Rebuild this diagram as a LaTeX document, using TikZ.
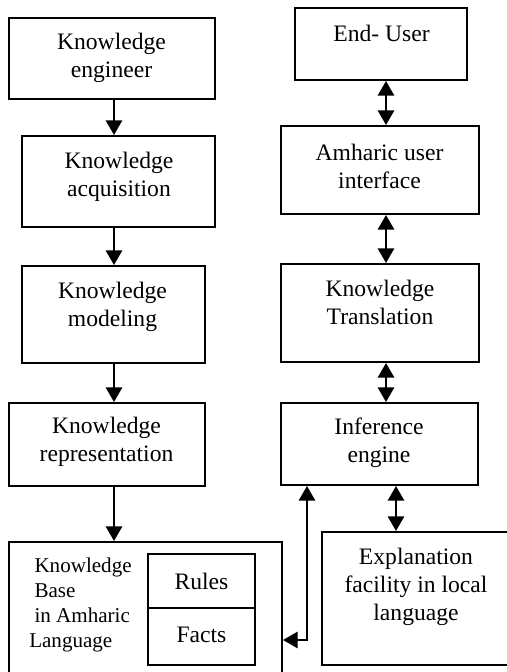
\documentclass[tikz,border=0pt]{standalone}
\usepackage{fontspec}
\setmainfont{Liberation Serif}
\usetikzlibrary{arrows.meta,fit}
\begin{document}
\begin{tikzpicture}[x=0.75pt,y=-0.75pt,
  box/.style={draw, line width=1.4pt, inner sep=0pt},
  txt/.style={align=center, inner sep=0pt, font=\fontsize{17.7}{21}\selectfont},
  kbtxt/.style={align=left, inner sep=0pt, font=\fontsize{15.8}{18.75}\selectfont},
  arr/.style={line width=2.1pt, -{Triangle[width=12pt,length=11pt]}},
  darr/.style={line width=2.1pt, {Triangle[width=12pt,length=11pt]}-{Triangle[width=12pt,length=11pt]}}]
\useasboundingbox (0,0) rectangle (507,672);
\clip (0,0) rectangle (507,672);
% left column
\node[box, fit={(9,18) (215,99)}] (ke) {};
\node[txt] (ket) at (111.5,58) {Knowledge\\engineer};
\node[box, fit={(22,136) (215,227)}] (ka) {};
\node[txt] (kat) at (119,176.5) {Knowledge\\acquisition};
\node[box, fit={(22,266) (205,363)}] (km) {};
\node[txt] (kmt) at (112.5,307) {Knowledge\\modeling};
\node[box, fit={(9,403) (205,486)}] (kr) {};
\node[txt] (krt) at (106.5,442) {Knowledge\\representation};
\node[box, fit={(9,542) (282,700)}] (kb) {};
\node[kbtxt, anchor=west] (kbt) at (29,605) {\hspace*{0.25em}Knowledge\\\hspace*{0.25em}Base\\\hspace*{0.25em}in Amharic\\Language};
\node[box, fit={(148,554) (255,608)}] (rules) {};
\node[txt] (rulest) at (rules.center) {Rules};
\node[box, fit={(148,608) (255,665)}] (facts) {};
\node[txt] (factst) at ([yshift=1.5pt]facts.center) {Facts};
% right column
\node[box, fit={(295,8) (467,80)}] (eu) {};
\node[txt] (eut) at (381.5,33) {End- User};
\node[box, fit={(281,126) (479,214)}] (aui) {};
\node[txt] (auit) at (379.5,166) {Amharic user\\interface};
\node[box, fit={(281,264) (479,362)}] (kt) {};
\node[txt] (ktt) at (380,302.5) {Knowledge\\Translation};
\node[box, fit={(281,403) (478,485)}] (ie) {};
\node[txt] (iet) at (379,443) {Inference\\engine};
\node[box, fit={(322,532) (512,665)}] (ex) {};
\node[txt] (ext) at (416,587) {Explanation\\facility in local\\language};
% connectors
\coordinate (lx) at (114,0);
\coordinate (rx) at (386,0);
\coordinate (ex1) at (396,0);
\coordinate (kbx) at (307,640);
\draw[arr] (ke.south -| lx) -- (ka.north -| lx);
\draw[arr] (ka.south -| lx) -- (km.north -| lx);
\draw[arr] (km.south -| lx) -- (kr.north -| lx);
\draw[arr] (kr.south -| lx) -- (kb.north -| lx);
\draw[darr] (eu.south -| rx) -- (aui.north -| rx);
\draw[darr] (aui.south -| rx) -- (kt.north -| rx);
\draw[darr] (kt.south -| rx) -- (ie.north -| rx);
\draw[darr] (ie.south -| ex1) -- (ex.north -| ex1);
\draw[darr] (kb.east |- kbx) -- (kbx) -- (ie.south -| kbx);
\end{tikzpicture}
\end{document}
